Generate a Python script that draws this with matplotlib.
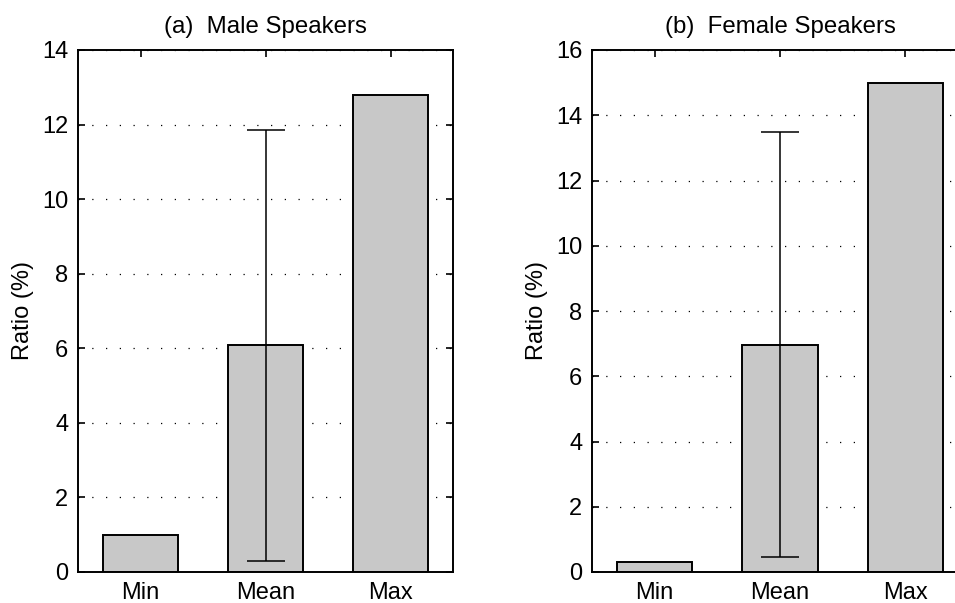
import matplotlib.pyplot as plt

categories = ['Min', 'Mean', 'Max']
male_values = [1.0, 6.1, 12.8]
female_values = [0.3, 6.95, 15.0]
male_mean_err = (0.3, 11.85)     # lower, upper end of error bar on Mean
female_mean_err = (0.45, 13.5)

plt.rcParams['font.family'] = ['Liberation Sans', 'DejaVu Sans']
plt.rcParams['font.size'] = 17

fig = plt.figure(figsize=(9.55, 6.03), dpi=100)
W, H = 955, 603


def panel(rect, values, err, ymax, title):
    ax = fig.add_axes(rect)
    x = [1, 2, 3]
    ax.bar(x, values, width=0.6, color='#c8c8c8', edgecolor='black', linewidth=1.4, zorder=2)
    mean = values[1]
    ax.errorbar([2], [mean], yerr=[[mean - err[0]], [err[1] - mean]], fmt='none',
                ecolor='black', elinewidth=1.1, capsize=13.5, capthick=1.1, zorder=3)
    ax.set_xlim(0.5, 3.5)
    ax.set_ylim(0, ymax)
    ax.set_yticks(range(0, ymax + 1, 2))
    ax.set_xticks(x)
    ax.set_xticklabels(categories)
    ax.yaxis.grid(True, linestyle=(0, (1, 10)), color='black', linewidth=0.9, zorder=1)
    ax.set_axisbelow(True)
    ax.tick_params(direction='in', top=True, right=True, length=5, width=1.2, pad=7)
    for s in ax.spines.values():
        s.set_linewidth(1.4)
    ax.set_ylabel('Ratio (%)', fontsize=17, labelpad=6)
    ax.set_title(title, fontsize=17.3, pad=12)
    return ax


bottom = 1 - 572 / H
height = (572 - 50) / H
panel([78 / W, bottom, (453 - 78) / W, height], male_values, male_mean_err, 14,
      '(a)  Male Speakers')
panel([592 / W, bottom, 376 / W, height], female_values, female_mean_err, 16,
      '(b)  Female Speakers')

fig.savefig('out.png', dpi=100)
